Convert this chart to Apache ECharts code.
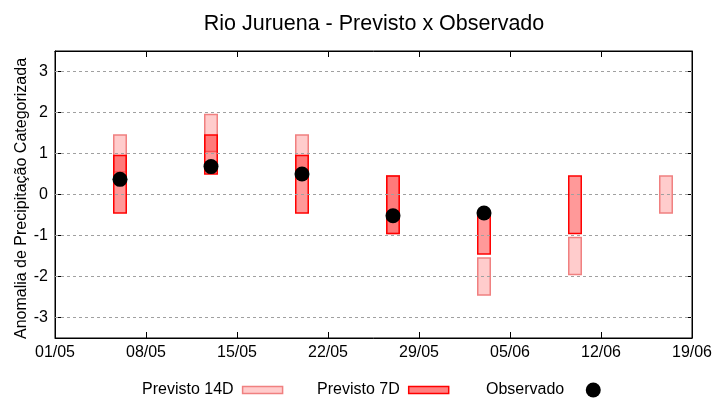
<!DOCTYPE html>
<html>
<head>
<meta charset="utf-8">
<script src="https://cdn.jsdelivr.net/npm/echarts@6/dist/echarts.min.js"></script>
<style>html,body{margin:0;padding:0;background:#fff}#c{width:720px;height:400px}</style>
</head>
<body>
<div id="c"></div>
<script>
// ---- data ----
const xTickLabels = ['01/05','08/05','15/05','22/05','29/05','05/06','12/06','19/06'];
const yTickValues = [-3,-2,-1,0,1,2,3];

const dates14 = ['06/05','13/05','20/05','27/05','03/06','10/06','17/06'];
const low14   = [0.55, 1.05, 0.55, -0.95, -2.45, -1.95, -0.45];
const high14  = [1.45, 1.95, 1.45,  0.45, -1.55, -1.05,  0.45];

const dates7 = ['06/05','13/05','20/05','27/05','03/06','10/06'];
const low7   = [-0.45, 0.50, -0.45, -0.95, -1.45, -0.95];
const high7  = [ 0.95, 1.45,  0.95,  0.45, -0.45,  0.45];

const datesObs = ['06/05','13/05','20/05','27/05','03/06'];
const obs      = [0.37, 0.68, 0.50, -0.52, -0.45];

// ---- helpers ----
function dayOffset(s){
  const [d,m] = s.split('/').map(Number);
  return Math.round((Date.UTC(2000,m-1,d) - Date.UTC(2000,4,1))/86400000);
}
function label(v){
  const t = new Date(Date.UTC(2000,4,1) + v*86400000);
  const dd = String(t.getUTCDate()).padStart(2,'0');
  const mm = String(t.getUTCMonth()+1).padStart(2,'0');
  return dd + '/' + mm;
}
const FONT = 'Liberation Sans';
const HALF = 0.48;

function boxRender(fill, stroke){
  return function(params, api){
    const x = api.value(0), lo = api.value(1), hi = api.value(2);
    const p1 = api.coord([x - HALF, hi]);
    const p2 = api.coord([x + HALF, lo]);
    return {type:'rect', shape:{x:p1[0], y:p1[1], width:p2[0]-p1[0], height:p2[1]-p1[1]},
            style:{fill:fill, stroke:stroke, lineWidth:1.5}};
  };
}

const data14 = dates14.map((d,i)=>[dayOffset(d), low14[i], high14[i]]);
const data7  = dates7.map((d,i)=>[dayOffset(d), low7[i], high7[i]]);
const dataObs = datesObs.map((d,i)=>[dayOffset(d), obs[i]]);

const xMax = dayOffset(xTickLabels[xTickLabels.length-1]);

const chart = echarts.init(document.getElementById('c'), null, {renderer:'canvas'});
const commonX = {
  type:'value', min:0, max:xMax, interval:7,
  axisLine:{show:true, onZero:false, lineStyle:{color:'#000', width:1}},
  axisTick:{show:true, inside:true, length:6, lineStyle:{color:'#000'}},
  splitLine:{show:false}
};
const commonY = {
  type:'value', min:-3.5, max:3.5,
  axisLine:{show:true, onZero:false, lineStyle:{color:'#000', width:1}},
  axisTick:{show:true, inside:true, length:6, customValues:yTickValues, lineStyle:{color:'#000'}},
  splitLine:{show:false}
};
const legText = {fontFamily:FONT, fontSize:16, color:'#000', padding:[0,4,0,0]};
chart.setOption({
  animation:false,
  backgroundColor:'#fff',
  title:{text:'Rio Juruena - Previsto x Observado', left:369, top:8, textAlign:'center',
         textStyle:{fontFamily:FONT, fontSize:21.5, fontWeight:'normal', color:'#000'}},
  grid:{left:55, right:28, top:51, bottom:62, show:true, borderColor:'#000', borderWidth:1},
  xAxis:[
    Object.assign({}, commonX, {position:'bottom',
      axisLabel:{show:true, fontFamily:FONT, fontSize:16, color:'#000', margin:7, formatter:label}}),
    Object.assign({}, commonX, {position:'top', axisLabel:{show:false}})
  ],
  yAxis:[
    Object.assign({}, commonY, {position:'left',
      name:'Anomalia de Precipitação Categorizada', nameLocation:'middle', nameGap:25,
      nameMoveOverlap:false,
      nameTextStyle:{fontFamily:FONT, fontSize:16, color:'#000', padding:[0,8,0,0]},
      axisLabel:{show:true, customValues:yTickValues, fontFamily:FONT, fontSize:16, color:'#000', margin:7}}),
    Object.assign({}, commonY, {position:'right', axisLabel:{show:false}})
  ],
  legend:[
    {left:137, top:377, align:'right', icon:'rect', itemWidth:40, itemHeight:7,
     data:[{name:'Previsto 14D', icon:'rect', itemStyle:{color:'#ffcccc', borderColor:'#f08080', borderWidth:1.5}}],
     textStyle:legText},
    {left:312, top:377, align:'right', icon:'rect', itemWidth:40, itemHeight:7,
     data:[{name:'Previsto 7D', icon:'rect', itemStyle:{color:'#ff8080', borderColor:'#ff0000', borderWidth:1.5}}],
     textStyle:legText},
    {left:481, top:377, align:'right', icon:'circle', itemWidth:40, itemHeight:15,
     data:[{name:'Observado', icon:'circle', itemStyle:{color:'#000', opacity:1}}],
     textStyle:legText}
  ],
  series:[
    {name:'gridlines', type:'line', data:[], silent:true, z:1,
     markLine:{silent:true, symbol:['none','none'], label:{show:false},
       lineStyle:{color:'#a0a0a0', type:[3,3], width:1},
       data:yTickValues.map(v=>({yAxis:v}))}},
    {name:'Previsto 14D', type:'custom', renderItem:boxRender('#ffcccc','#f08080'),
     itemStyle:{color:'#ffcccc', borderColor:'#f08080', borderWidth:1.5},
     encode:{x:0, y:[1,2]}, data:data14, z:2},
    {name:'Previsto 7D', type:'custom', renderItem:boxRender('rgba(255,0,0,0.4)','#ff0000'),
     itemStyle:{color:'#ff8080', borderColor:'#ff0000', borderWidth:1.5},
     encode:{x:0, y:[1,2]}, data:data7, z:3},
    {name:'Observado', type:'scatter', symbol:'circle', symbolSize:15,
     itemStyle:{color:'#000', opacity:1}, data:dataObs, z:4}
  ]
});
</script>
</body>
</html>
